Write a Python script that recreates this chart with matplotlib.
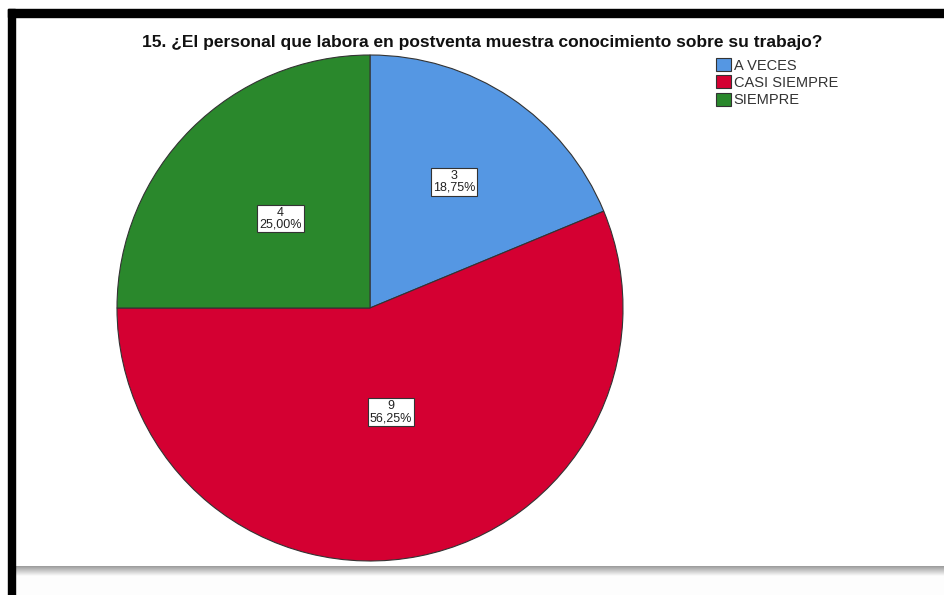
import matplotlib.pyplot as plt
import numpy as np

# data
categories = ['A VECES', 'CASI SIEMPRE', 'SIEMPRE']
counts = [3, 9, 4]
colors = ['#5597e3', '#d40032', '#2a882c']
title = '15. ¿El personal que labora en postventa muestra conocimiento sobre su trabajo?'
label_dist = [0.60, 0.42, 0.50]

plt.rcParams['font.family'] = ['Liberation Sans', 'DejaVu Sans']

W, H = 945, 595
fig = plt.figure(figsize=(W / 100, H / 100), dpi=100)
fig.patch.set_facecolor('white')

# pie axes, sized in pixels
cx, cy, r = 370, 308, 253
ax = fig.add_axes([(cx - r) / W, 1 - (cy + r) / H, 2 * r / W, 2 * r / H])
wedges, _ = ax.pie(counts, colors=colors, startangle=90, counterclock=False,
                   radius=1, wedgeprops=dict(edgecolor='#333333', linewidth=0.8))
ax.set_xlim(-1, 1)
ax.set_ylim(-1, 1)
ax.set_aspect('equal')
ax.axis('off')

# value labels
total = sum(counts)
for w, n, d in zip(wedges, counts, label_dist):
    mid = np.deg2rad((w.theta1 + w.theta2) / 2)
    pct = f'{n / total * 100:.2f}%'.replace('.', ',')
    ax.text(d * np.cos(mid), d * np.sin(mid), f'{n}\n{pct}', ha='center', va='center',
            fontsize=9, color='#222222', linespacing=1.0,
            bbox=dict(boxstyle='square,pad=0.15', fc='white', ec='#333333', lw=0.8))

fig.text(482 / W, 1 - 42 / H, title, ha='center', va='center',
         fontsize=12.5, fontweight='bold', color='#111111')

leg = fig.legend(wedges, categories, loc='upper left',
                 bbox_to_anchor=(716 / W, 1 - 58 / H), frameon=False,
                 fontsize=10.5, handlelength=1.0, handleheight=1.0,
                 handletextpad=0.2, labelspacing=0.2, borderpad=0, borderaxespad=0)
for t in leg.get_texts():
    t.set_color('#333333')

# black frame on top and left
fig.patches.append(plt.Rectangle((8 / W, 1 - 17 / H), 1, 8 / H, transform=fig.transFigure,
                                 color='black', zorder=5))
fig.patches.append(plt.Rectangle((8 / W, 0), 7 / W, 1 - 9 / H, transform=fig.transFigure,
                                 color='black', zorder=5))

# grey shadow along the bottom
sh = fig.add_axes([15 / W, 0, 1 - 15 / W, 29 / H])
grad = np.concatenate([np.linspace(0.62, 0.97, 10), np.full(19, 0.99)])[:, None]
sh.imshow(np.repeat(grad, 2, axis=1), cmap='gray', vmin=0, vmax=1, aspect='auto',
          interpolation='bilinear', extent=(0, 1, 0, 1))
sh.axis('off')

fig.savefig('out.png', dpi=100)
